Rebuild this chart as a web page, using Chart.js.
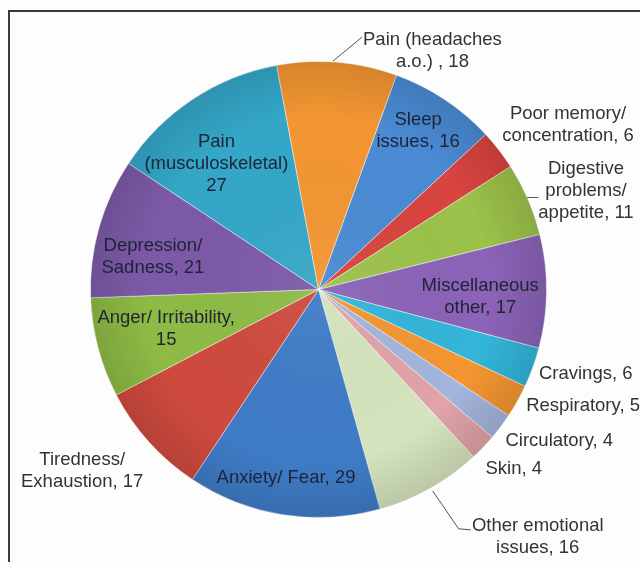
<!DOCTYPE html>
<html>
<head>
<meta charset="utf-8">
<script src="https://cdn.jsdelivr.net/npm/chart.js@4.4.0/dist/chart.umd.min.js"></script>
<style>
  html, body { margin: 0; padding: 0; background: #fdfdfd; }
  #wrap { position: relative; width: 640px; height: 562px; }
</style>
</head>
<body>
<div id="wrap"><canvas id="pie" width="640" height="562"></canvas></div>
<script>
// ==========================================
// DATOS (sentido horario, empezando por Sleep)
// ==========================================
const categorias = [
    'Sleep issues', 'Poor memory/ concentration', 'Digestive problems/ appetite',
    'Miscellaneous other', 'Cravings', 'Respiratory', 'Circulatory', 'Skin',
    'Other emotional issues', 'Anxiety/ Fear', 'Tiredness/ Exhaustion',
    'Anger/ Irritability', 'Depression/ Sadness', 'Pain (musculoskeletal)',
    'Pain (headaches a.o.)'
];
const cantidades = [16, 6, 11, 17, 6, 5, 4, 4, 16, 29, 17, 15, 21, 27, 18];

const colores = [
    '#4a8bd4', '#d9443f', '#9cc24a', '#8b63b8', '#33b5d9', '#f39632', '#a3b5dc',
    '#e0a3a8', '#d5e3be', '#3f7cc7', '#cf4a3e', '#8ebb45', '#7d5aa8', '#34a7c8',
    '#f39632'
];

// texto de cada etiqueta, {v} se sustituye por el valor
const lineasEtiqueta = [
    ['Sleep', 'issues, {v}'],
    ['Poor memory/', 'concentration, {v}'],
    ['Digestive', 'problems/', 'appetite, {v}'],
    ['Miscellaneous', 'other, {v}'],
    ['Cravings, {v}'],
    ['Respiratory, {v}'],
    ['Circulatory, {v}'],
    ['Skin, {v}'],
    ['Other emotional', 'issues, {v}'],
    ['Anxiety/ Fear, {v}'],
    ['Tiredness/', 'Exhaustion, {v}'],
    ['Anger/ Irritability,', '{v}'],
    ['Depression/', 'Sadness, {v}'],
    ['Pain', '(musculoskeletal)', '{v}'],
    ['Pain (headaches', 'a.o.) , {v}']
];

// colocación: [factor de radio, giro en grados respecto al centro del sector, alineación, dentro]
const colocacion = [
    [0.82, -1.4, 'center', true],
    [1.31, 4.4, 'center', false],
    [1.25, 3.1, 'center', false],
    [0.71, 2.0, 'center', true],
    [1.035, 0.9, 'left', false],
    [1.045, 0.0, 'left', false],
    [1.055, 2.0, 'left', false],
    [1.075, 3.3, 'left', false],
    [1.45, -12.3, 'center', false],
    [0.84, 0.8, 'center', true],
    [1.306, 4.5, 'center', false],
    [0.69, 0.4, 'center', true],
    [0.74, -4.7, 'center', true],
    [0.71, -5.6, 'center', true],
    [1.16, 20.8, 'center', false]
];

// líneas guía: puntos [giro, factor de radio]
const guias = {
    2: [[-0.5, 1.0], [0.6, 1.046]],
    8: [[-0.3, 1.015], [-1.1, 1.216], [-3.1, 1.248]],
    14: [[-1.1, 1.004], [3.7, 1.093], [5.1, 1.124]]
};

// ==========================================
// PLUGINS
// ==========================================
const marcoPlugin = {
    id: 'marco',
    beforeDraw(chart) {
        const ctx = chart.ctx;
        ctx.save();
        ctx.fillStyle = '#fdfdfd';
        ctx.fillRect(0, 0, chart.width, chart.height);
        ctx.strokeStyle = '#3a3a3a';
        ctx.lineWidth = 2;
        ctx.beginPath();
        ctx.moveTo(640, 11);
        ctx.lineTo(9, 11);
        ctx.lineTo(9, 562);
        ctx.stroke();
        ctx.restore();
    }
};

const sombraPlugin = {
    id: 'sombra',
    afterDatasetsDraw(chart) {
        const arc = chart.getDatasetMeta(0).data[0];
        if (!arc) return;
        const { x, y, outerRadius } = arc.getProps(['x', 'y', 'outerRadius'], true);
        const ctx = chart.ctx;
        ctx.save();
        ctx.beginPath();
        ctx.arc(x, y, outerRadius, 0, Math.PI * 2);
        ctx.clip();
        const g = ctx.createRadialGradient(x, y, 0, x, y, outerRadius);
        g.addColorStop(0, 'rgba(255,255,255,0.06)');
        g.addColorStop(0.75, 'rgba(0,0,0,0)');
        g.addColorStop(1, 'rgba(0,0,0,0.12)');
        ctx.fillStyle = g;
        ctx.fillRect(x - outerRadius, y - outerRadius, outerRadius * 2, outerRadius * 2);
        ctx.restore();
    }
};

const etiquetasPlugin = {
    id: 'etiquetas',
    afterDatasetsDraw(chart) {
        const ctx = chart.ctx;
        const meta = chart.getDatasetMeta(0);
        const valores = chart.data.datasets[0].data;
        ctx.save();
        ctx.font = '18.5px "Liberation Sans", Arial, sans-serif';
        ctx.textBaseline = 'middle';
        meta.data.forEach((arc, i) => {
            const { x, y, startAngle, endAngle, outerRadius } =
                arc.getProps(['x', 'y', 'startAngle', 'endAngle', 'outerRadius'], true);
            const mid = (startAngle + endAngle) / 2;
            const punto = (giro, f) => {
                const a = mid + giro * Math.PI / 180;
                return [x + Math.cos(a) * outerRadius * f, y + Math.sin(a) * outerRadius * f];
            };

            if (guias[i]) {
                ctx.strokeStyle = '#555';
                ctx.lineWidth = 1;
                ctx.beginPath();
                guias[i].forEach(([g, f], k) => {
                    const [px, py] = punto(g, f);
                    if (k === 0) ctx.moveTo(px, py); else ctx.lineTo(px, py);
                });
                ctx.stroke();
            }

            const [f, giro, alinear, dentro] = colocacion[i];
            const [lx, ly] = punto(giro, f);
            const lineas = lineasEtiqueta[i].map(t => t.replace('{v}', valores[i]));
            ctx.textAlign = alinear;
            ctx.fillStyle = dentro ? '#1e2336' : '#333333';
            const alto = 22;
            lineas.forEach((t, k) => {
                ctx.fillText(t, lx, ly + (k - (lineas.length - 1) / 2) * alto);
            });
        });
        ctx.restore();
    }
};

// ==========================================
// GRÁFICA
// ==========================================
new Chart(document.getElementById('pie'), {
    type: 'pie',
    data: {
        labels: categorias,
        datasets: [{
            data: cantidades,
            backgroundColor: colores,
            borderColor: 'rgba(255, 255, 255, 0.45)',
            borderWidth: 1
        }]
    },
    options: {
        responsive: false,
        animation: false,
        rotation: 20,
        layout: { padding: { left: 90, right: 93, top: 61, bottom: 44 } },
        plugins: {
            legend: { display: false },
            tooltip: { enabled: false }
        }
    },
    plugins: [marcoPlugin, sombraPlugin, etiquetasPlugin]
});
</script>
</body>
</html>
